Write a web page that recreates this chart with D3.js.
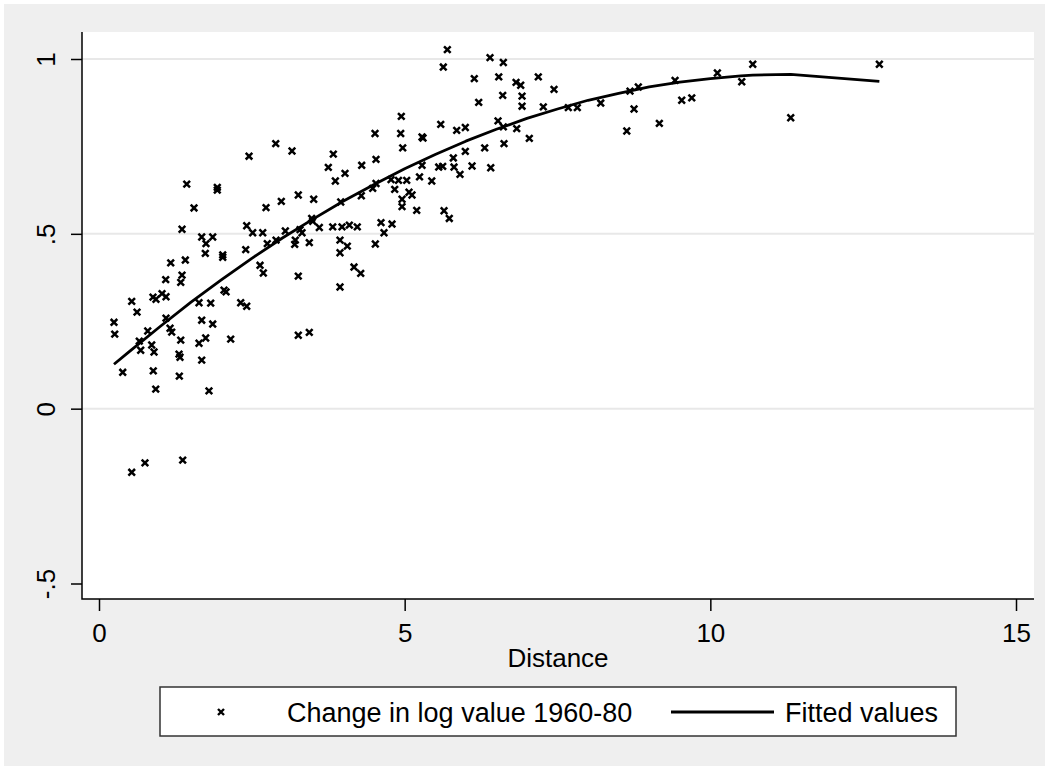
<!DOCTYPE html>
<html>
<head>
<meta charset="utf-8">
<script src="https://cdn.jsdelivr.net/npm/d3@7"></script>
<style>
  body { margin: 0; background: #fff; }
  svg { display: block; font-family: "Liberation Sans", Arial, sans-serif; }
</style>
</head>
<body>
<svg id="chart" width="1049" height="770"></svg>
<script>
// distance (x) and change in log value 1960-80 (y)
const distance = [
  0.535, 0.883, 0.932, 0.622, 0.245, 0.257, 0.797, 1.096, 1.162, 1.189,
  0.659, 0.682, 0.862, 0.900, 1.337, 1.309, 1.325, 1.680, 1.860, 1.636,
  1.745, 1.680, 2.154, 0.388, 0.888, 1.314, 0.928, 1.799, 0.535, 0.752,
  1.369, 1.636, 1.827, 2.318, 2.416, 1.435, 1.935, 1.935, 1.554, 1.358,
  2.416, 2.514, 1.680, 1.750, 1.860, 1.739, 2.024, 2.024, 2.400, 1.173,
  1.412, 1.358, 1.337, 1.091, 1.031, 1.096, 2.045, 2.078, 2.634, 4.515,
  4.935, 2.891, 2.454, 3.157, 3.833, 4.968, 4.531, 3.751, 4.024, 4.297,
  3.866, 4.777, 4.899, 5.033, 5.243, 4.531, 4.477, 4.837, 5.071, 5.120,
  3.260, 2.982, 3.512, 3.954, 4.291, 4.957, 4.957, 5.197, 2.732, 3.479,
  3.496, 4.613, 4.793, 4.662, 2.678, 3.048, 3.288, 3.321, 3.604, 3.823,
  3.975, 4.095, 4.225, 2.753, 2.896, 3.211, 3.201, 3.440, 3.942, 3.942,
  4.062, 4.520, 2.688, 3.260, 4.171, 4.281, 3.942, 3.260, 3.440, 5.698,
  5.632, 6.396, 6.614, 6.139, 6.539, 7.186, 6.822, 6.898, 7.443, 6.604,
  6.920, 6.211, 6.920, 7.268, 7.677, 7.824, 4.945, 5.590, 5.851, 5.992,
  6.527, 6.614, 6.833, 5.284, 5.300, 7.039, 5.992, 6.309, 6.625, 5.796,
  5.807, 5.284, 5.557, 5.622, 6.102, 6.408, 5.905, 5.443, 5.644, 5.730,
  8.207, 8.686, 8.822, 8.752, 8.633, 9.166, 9.423, 9.532, 9.696, 10.115,
  10.514, 10.694, 11.315, 12.765
];
const logChange = [
  0.307, 0.319, 0.313, 0.276, 0.247, 0.213, 0.222, 0.259, 0.230, 0.219,
  0.193, 0.167, 0.182, 0.162, 0.196, 0.156, 0.147, 0.253, 0.242, 0.187,
  0.202, 0.139, 0.199, 0.104, 0.108, 0.093, 0.056, 0.051, -0.182, -0.155,
  -0.147, 0.303, 0.302, 0.303, 0.293, 0.642, 0.633, 0.625, 0.574, 0.513,
  0.523, 0.503, 0.491, 0.472, 0.491, 0.444, 0.440, 0.433, 0.455, 0.417,
  0.425, 0.382, 0.361, 0.369, 0.329, 0.320, 0.339, 0.334, 0.410, 0.787,
  0.787, 0.758, 0.722, 0.737, 0.728, 0.746, 0.713, 0.690, 0.673, 0.696,
  0.651, 0.655, 0.653, 0.653, 0.663, 0.644, 0.630, 0.627, 0.619, 0.611,
  0.611, 0.593, 0.599, 0.591, 0.609, 0.599, 0.578, 0.567, 0.575, 0.544,
  0.536, 0.532, 0.528, 0.503, 0.503, 0.508, 0.512, 0.503, 0.518, 0.520,
  0.520, 0.525, 0.520, 0.472, 0.482, 0.482, 0.470, 0.475, 0.482, 0.446,
  0.465, 0.471, 0.388, 0.379, 0.405, 0.387, 0.348, 0.210, 0.218, 1.027,
  0.977, 1.004, 0.990, 0.944, 0.949, 0.949, 0.933, 0.925, 0.913, 0.896,
  0.894, 0.876, 0.865, 0.863, 0.861, 0.861, 0.836, 0.813, 0.796, 0.804,
  0.823, 0.806, 0.801, 0.777, 0.774, 0.773, 0.736, 0.746, 0.758, 0.717,
  0.691, 0.696, 0.691, 0.693, 0.694, 0.689, 0.670, 0.651, 0.566, 0.544,
  0.874, 0.908, 0.920, 0.857, 0.794, 0.816, 0.939, 0.882, 0.889, 0.960,
  0.935, 0.985, 0.832, 0.985
];

// fitted values line
const fitX = [0.245, 0.5, 1.0, 1.5, 2.0, 2.5, 3.0, 3.5, 4.0, 4.5, 5.0, 5.5,
  6.0, 6.5, 7.0, 7.5, 8.0, 8.5, 9.0, 9.5, 10.0, 10.5, 10.694, 11.315, 12.765];
const fitY = [0.127, 0.164, 0.235, 0.304, 0.368, 0.430, 0.488, 0.542, 0.594,
  0.641, 0.686, 0.727, 0.765, 0.799, 0.830, 0.857, 0.882, 0.902, 0.920, 0.934,
  0.944, 0.952, 0.954, 0.956, 0.936];

const xTicks = [0, 5, 10, 15];
const yTicks = [-0.5, 0, 0.5, 1];
const yTickLabels = ["-.5", "0", ".5", "1"];
const gridValues = [0, 0.5, 1];
const xTitle = "Distance";
const legendLabels = ["Change in log value 1960-80", "Fitted values"];

const W = 1049, H = 770;
const plot = { left: 82, right: 1034, top: 32, bottom: 599 };
const fontSize = 26;

const svg = d3.select("#chart");

// outer grey panel and white plot region
svg.append("rect").attr("x", 4).attr("y", 4).attr("width", W - 8).attr("height", H - 8)
  .attr("fill", "#efefef");
svg.append("rect").attr("x", plot.left).attr("y", plot.top)
  .attr("width", plot.right - plot.left).attr("height", plot.bottom - plot.top)
  .attr("fill", "#fff");

const x = d3.scaleLinear().domain([0, 15]).range([99, 1016]);
const y = d3.scaleLinear().domain([-0.5, 1]).range([583.5, 59]);

// grid lines
svg.append("g").selectAll("line")
  .data(gridValues)
  .join("line")
  .attr("x1", plot.left).attr("x2", plot.right)
  .attr("y1", d => y(d)).attr("y2", d => y(d))
  .attr("stroke", "#e8e8e8").attr("stroke-width", 2);

// axes
const yAxis = g => g
  .attr("transform", `translate(${plot.left},0)`)
  .call(d3.axisLeft(y).tickValues(yTicks).tickSize(11).tickFormat((d, i) => yTickLabels[i]))
  .call(g => g.select(".domain").remove())
  .call(g => g.selectAll(".tick line").attr("stroke", "#000").attr("stroke-width", 1.5))
  .call(g => g.selectAll(".tick text")
    .attr("x", null).attr("dy", null)
    .attr("transform", "translate(-27,0) rotate(-90)")
    .attr("text-anchor", "middle")
    .attr("font-size", fontSize).attr("font-family", "Liberation Sans, Arial, sans-serif")
    .attr("fill", "#000"));

const xAxis = g => g
  .attr("transform", `translate(0,${plot.bottom})`)
  .call(d3.axisBottom(x).tickValues(xTicks).tickSize(12).tickFormat(d3.format("d")))
  .call(g => g.select(".domain").remove())
  .call(g => g.selectAll(".tick line").attr("stroke", "#000").attr("stroke-width", 1.5))
  .call(g => g.selectAll(".tick text")
    .attr("y", 43).attr("dy", null)
    .attr("font-size", fontSize).attr("font-family", "Liberation Sans, Arial, sans-serif")
    .attr("fill", "#000"));

svg.append("g").call(yAxis);
svg.append("g").call(xAxis);

svg.append("path")
  .attr("d", `M${plot.left},${plot.top}V${plot.bottom}H${plot.right}`)
  .attr("fill", "none").attr("stroke", "#000").attr("stroke-width", 1.5);

svg.append("text")
  .attr("x", (plot.left + plot.right) / 2).attr("y", 667)
  .attr("text-anchor", "middle").attr("font-size", fontSize)
  .text(xTitle);

// x marker
const cross = (s) => `M${-s},${-s}L${s},${s}M${-s},${s}L${s},${-s}`;

// fitted line
const line = d3.line().x(d => x(d[0])).y(d => y(d[1]));
svg.append("path")
  .datum(d3.zip(fitX, fitY))
  .attr("d", line)
  .attr("fill", "none").attr("stroke", "#000").attr("stroke-width", 2.8)
  .attr("stroke-linejoin", "round");

// scatter points
svg.append("g").selectAll("path")
  .data(d3.zip(distance, logChange))
  .join("path")
  .attr("transform", d => `translate(${x(d[0])},${y(d[1])})`)
  .attr("d", cross(3.3))
  .attr("stroke", "#000").attr("stroke-width", 2.5).attr("fill", "none");

// legend
const legend = svg.append("g");
legend.append("rect").attr("x", 160).attr("y", 687).attr("width", 796).attr("height", 49)
  .attr("fill", "#fff").attr("stroke", "#333").attr("stroke-width", 1.5);
legend.append("path").attr("transform", "translate(221,712)").attr("d", cross(3))
  .attr("stroke", "#000").attr("stroke-width", 2.4);
legend.append("text").attr("x", 287).attr("y", 722).attr("font-size", 27)
  .text(legendLabels[0]);
legend.append("line").attr("x1", 671).attr("x2", 774).attr("y1", 712).attr("y2", 712)
  .attr("stroke", "#000").attr("stroke-width", 2.8);
legend.append("text").attr("x", 785).attr("y", 722).attr("font-size", 27)
  .text(legendLabels[1]);
</script>
</body>
</html>
